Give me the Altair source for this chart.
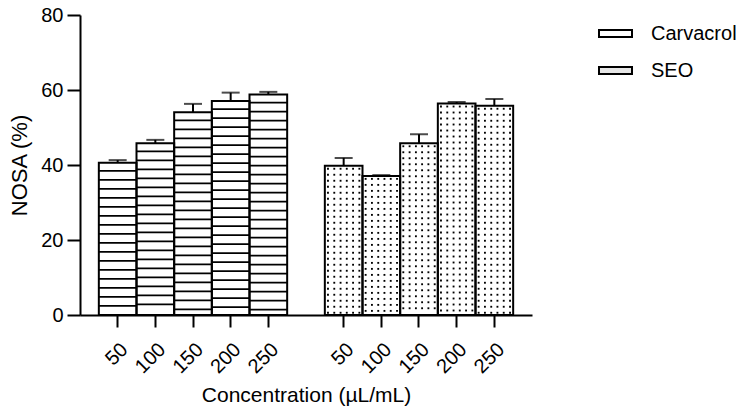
import altair as alt
import pandas as pd

concentrations = ["50", "100", "150", "200", "250"]
groups = ["Carvacrol", "SEO"]
carvacrol_mean = [40.6, 45.8, 54.1, 57.1, 58.8]
carvacrol_sd = [0.7, 0.9, 2.2, 2.2, 0.7]
seo_mean = [39.8, 37.1, 45.8, 56.4, 55.8]
seo_sd = [2.1, 0.2, 2.4, 0.4, 1.8]

rows = []
for g, means, sds in [("Carvacrol", carvacrol_mean, carvacrol_sd), ("SEO", seo_mean, seo_sd)]:
    for c, m, s in zip(concentrations, means, sds):
        rows.append({"group": g, "conc": c, "cat": f"{g} {c}", "value": m, "upper": m + s})
df = pd.DataFrame(rows)

label_cats = [f"Carvacrol {c}" for c in concentrations] + [f"SEO {c}" for c in concentrations]
domain = label_cats[:5] + ["gap"] + label_cats[5:]

FONT = "Liberation Sans"

x = alt.X(
    "cat:N",
    scale=alt.Scale(domain=domain, paddingInner=0, paddingOuter=0.5),
    axis=alt.Axis(
        values=label_cats,
        labelExpr="split(datum.label, ' ')[1]",
        labelAngle=-45,
        labelPadding=12,
        tickSize=12,
        title="Concentration (µL/mL)",
        titleFontSize=21,
        titlePadding=8,
    ),
)
y = alt.Y(
    "value:Q",
    scale=alt.Scale(domain=[0, 80], nice=False),
    axis=alt.Axis(values=[0, 20, 40, 60, 80], tickSize=13, labelPadding=4,
                  title="NOSA (%)", titlePadding=9),
)

base = alt.Chart(df)

bars = base.mark_bar(fill="white", strokeWidth=0).encode(x=x, y=y)

hatch = (
    base.transform_filter("datum.group == 'Carvacrol'")
    .transform_calculate(h="sequence(datum.value - 2.4, 0.6, -2.4)")
    .transform_flatten(["h"])
    .transform_calculate(h2="datum.h + 0.45")
    .mark_bar(color="black")
    .encode(x=x, y=alt.Y("h:Q"), y2="h2:Q")
)

dot_layers = []
for off in [-15.7, -9.4, -3.1, 3.1, 9.4, 15.7]:
    dot_layers.append(
        base.transform_filter("datum.group == 'SEO'")
        .transform_calculate(r="sequence(datum.value - 0.8, 0.3, -1.6)")
        .transform_flatten(["r"])
        .mark_square(size=3.5, color="#000", opacity=1, xOffset=off)
        .encode(x=x, y=alt.Y("r:Q"))
    )

outline = base.mark_bar(fill="white", fillOpacity=0, stroke="black", strokeWidth=2).encode(x=x, y=y)

err = base.mark_rule(color="black", strokeWidth=2).encode(x=x, y="value:Q", y2="upper:Q")
cap = base.mark_tick(orient="horizontal", size=18, thickness=2, color="black").encode(x=x, y="upper:Q")

legend_layer = base.mark_square(opacity=0).encode(
    x=x,
    y="value:Q",
    fill=alt.Fill(
        "group:N",
        scale=alt.Scale(domain=groups, range=["white", "#e6e6e6"]),
        legend=alt.Legend(
            title=None,
            orient="none",
            legendX=518,
            legendY=1,
            symbolType="M-1,-0.21H1V0.21H-1Z",
            symbolSize=1089,
            symbolStrokeColor="black",
            symbolStrokeWidth=2,
            symbolOpacity=1,
            labelFont=FONT,
            labelFontSize=20,
            labelColor="black",
            labelOffset=18,
            rowPadding=9,
        ),
    ),
)

chart = (
    alt.layer(bars, hatch, *dot_layers, outline, err, cap, legend_layer)
    .properties(
        width=452,
        height=300,
        autosize=alt.AutoSizeParams(type="none"),
        padding={"left": 72, "top": 7, "right": 206, "bottom": 93},
    )
    .configure_view(stroke=None)
    .configure_axis(
        domainColor="black",
        domainWidth=2,
        tickColor="black",
        tickWidth=2,
        grid=False,
        labelFont=FONT,
        labelFontSize=20,
        labelColor="black",
        titleFont=FONT,
        titleFontSize=22,
        titleFontWeight="normal",
        titleColor="black",
    )
)

chart.save("out.html", embed_options={"renderer": "svg", "actions": False})
